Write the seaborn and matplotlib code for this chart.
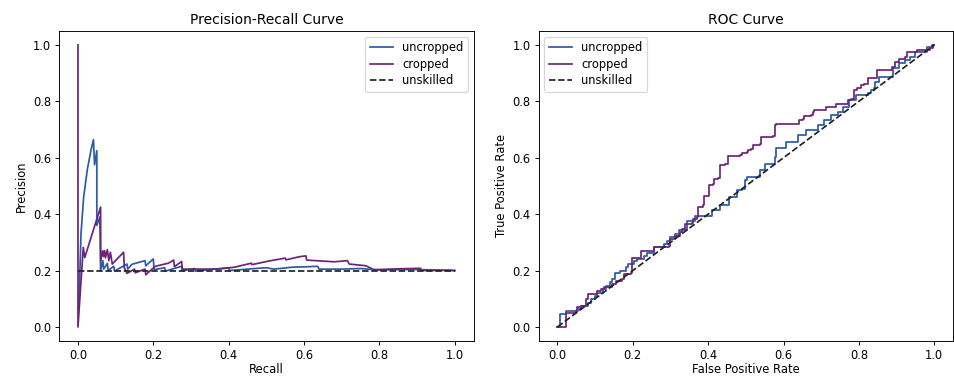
import numpy as np
import pandas as pd
import matplotlib
matplotlib.use("Agg")
import matplotlib.pyplot as plt
import seaborn as sns

# ---------------- data ----------------
# Precision-Recall: uncropped
pr_unc_recall = [0.003, 0.008, 0.015, 0.025, 0.035, 0.041, 0.044, 0.050, 0.050, 0.058, 0.060,
                 0.066, 0.068, 0.078, 0.080, 0.095, 0.097, 0.130, 0.132, 0.143, 0.178, 0.180,
                 0.200, 0.202, 0.230, 0.232, 0.275, 0.277, 0.310, 0.312, 0.360, 0.400, 0.402,
                 0.450, 0.500, 0.520, 0.570, 0.600, 0.636, 0.640, 0.700, 0.750, 0.800, 0.880,
                 0.950, 1.000]
pr_unc_precision = [0.10, 0.33, 0.46, 0.56, 0.63, 0.664, 0.575, 0.625, 0.36, 0.39, 0.20,
                    0.235, 0.205, 0.225, 0.200, 0.215, 0.198, 0.223, 0.205, 0.222, 0.235, 0.217,
                    0.241, 0.203, 0.210, 0.198, 0.215, 0.199, 0.207, 0.198, 0.205, 0.210, 0.200,
                    0.205, 0.210, 0.205, 0.212, 0.213, 0.215, 0.205, 0.205, 0.207, 0.202, 0.204,
                    0.202, 0.200]
# Precision-Recall: cropped
pr_crp_recall = [0.000, 0.000, 0.014, 0.018, 0.060, 0.0605, 0.066, 0.068, 0.071, 0.073, 0.078,
                 0.082, 0.086, 0.091, 0.121, 0.123, 0.130, 0.150, 0.152, 0.178, 0.180, 0.205,
                 0.240, 0.254, 0.256, 0.275, 0.277, 0.372, 0.416, 0.460, 0.462, 0.504, 0.550,
                 0.552, 0.588, 0.605, 0.607, 0.680, 0.715, 0.720, 0.764, 0.785, 0.850, 0.909,
                 0.911, 0.988, 1.000]
pr_crp_precision = [1.00, 0.00, 0.282, 0.246, 0.425, 0.235, 0.270, 0.250, 0.270, 0.245, 0.274,
                    0.235, 0.265, 0.223, 0.265, 0.210, 0.190, 0.205, 0.192, 0.205, 0.185, 0.215,
                    0.226, 0.237, 0.214, 0.232, 0.205, 0.205, 0.212, 0.226, 0.221, 0.233, 0.244,
                    0.238, 0.249, 0.252, 0.237, 0.231, 0.235, 0.223, 0.217, 0.203, 0.206, 0.208,
                    0.200, 0.201, 0.200]
pr_skill_recall = [0.0, 1.0]
pr_skill_precision = [0.2, 0.2]

# ROC: uncropped (step vertices)
roc_unc_fpr = [0.000, 0.008, 0.023, 0.055, 0.062, 0.080, 0.090, 0.100, 0.106, 0.120, 0.130,
               0.140, 0.146, 0.152, 0.165, 0.181, 0.186, 0.203, 0.212, 0.230, 0.238, 0.256,
               0.282, 0.291, 0.300, 0.313, 0.322, 0.344, 0.366, 0.410, 0.432, 0.454, 0.476,
               0.489, 0.498, 0.502, 0.537, 0.550, 0.577, 0.581, 0.607, 0.638, 0.660, 0.691,
               0.708, 0.726, 0.744, 0.757, 0.774, 0.792, 0.823, 0.831, 0.840, 0.844, 0.853,
               0.891, 0.906, 0.923, 0.937, 0.950, 0.981, 0.994, 1.000]
roc_unc_tpr = [0.000, 0.045, 0.055, 0.065, 0.075, 0.085, 0.098, 0.110, 0.122, 0.135, 0.146,
               0.158, 0.170, 0.193, 0.199, 0.211, 0.223, 0.235, 0.241, 0.250, 0.262, 0.282,
               0.294, 0.306, 0.318, 0.330, 0.342, 0.377, 0.395, 0.413, 0.431, 0.460, 0.484,
               0.490, 0.520, 0.532, 0.555, 0.579, 0.603, 0.636, 0.656, 0.680, 0.698, 0.715,
               0.733, 0.751, 0.763, 0.781, 0.804, 0.822, 0.828, 0.840, 0.848, 0.869, 0.887,
               0.917, 0.935, 0.947, 0.958, 0.976, 0.994, 1.000, 1.000]
# ROC: cropped (step vertices)
roc_crp_fpr = [0.000, 0.014, 0.023, 0.049, 0.052, 0.062, 0.075, 0.080, 0.106, 0.115, 0.124,
               0.146, 0.155, 0.172, 0.177, 0.194, 0.199, 0.222, 0.256, 0.296, 0.300, 0.313,
               0.326, 0.331, 0.339, 0.357, 0.361, 0.370, 0.374, 0.387, 0.390, 0.401, 0.402,
               0.414, 0.416, 0.427, 0.432, 0.445, 0.452, 0.484, 0.489, 0.502, 0.507, 0.515,
               0.520, 0.537, 0.541, 0.572, 0.577, 0.581, 0.638, 0.642, 0.651, 0.655, 0.673,
               0.677, 0.682, 0.713, 0.739, 0.770, 0.779, 0.788, 0.796, 0.805, 0.814, 0.823,
               0.831, 0.849, 0.888, 0.897, 0.906, 0.923, 0.928, 0.954, 0.989, 0.998, 1.000]
roc_crp_tpr = [0.000, 0.000, 0.051, 0.057, 0.069, 0.075, 0.098, 0.116, 0.128, 0.134, 0.140,
               0.152, 0.164, 0.169, 0.187, 0.193, 0.246, 0.268, 0.282, 0.288, 0.312, 0.324,
               0.336, 0.347, 0.365, 0.368, 0.383, 0.389, 0.425, 0.431, 0.466, 0.472, 0.502,
               0.508, 0.526, 0.529, 0.573, 0.579, 0.606, 0.608, 0.617, 0.620, 0.626, 0.632,
               0.644, 0.650, 0.674, 0.676, 0.715, 0.721, 0.721, 0.733, 0.739, 0.747, 0.751,
               0.763, 0.769, 0.781, 0.792, 0.804, 0.810, 0.840, 0.846, 0.857, 0.863, 0.881,
               0.883, 0.911, 0.923, 0.941, 0.950, 0.958, 0.976, 0.982, 0.988, 1.000, 1.000]
roc_skill_fpr = [0.0, 1.0]
roc_skill_tpr = [0.0, 1.0]

series_labels = ["uncropped", "cropped", "unskilled"]
colors = {"uncropped": "#2a5aa8", "cropped": "#6e2378", "unskilled": "#222222"}

# ---------------- figure ----------------
DPI = 83
fig, axes = plt.subplots(1, 2, figsize=(954 / DPI, 376 / DPI), dpi=DPI)
fig.subplots_adjust(left=0.062, right=0.999, top=0.918, bottom=0.093, wspace=0.157)

ax = axes[0]
sns.lineplot(x=pr_unc_recall, y=pr_unc_precision, sort=False, estimator=None, ax=ax,
             color=colors["uncropped"], label=series_labels[0], linewidth=1.5)
sns.lineplot(x=pr_crp_recall, y=pr_crp_precision, sort=False, estimator=None, ax=ax,
             color=colors["cropped"], label=series_labels[1], linewidth=1.5)
sns.lineplot(x=pr_skill_recall, y=pr_skill_precision, sort=False, estimator=None, ax=ax,
             color=colors["unskilled"], label=series_labels[2], linestyle="--", linewidth=1.5)
ax.set_title("Precision-Recall Curve")
ax.set_xlabel("Recall", labelpad=0.5)
ax.set_ylabel("Precision")
ax.legend(loc="upper right", labelspacing=0.3)

ax = axes[1]
sns.lineplot(x=roc_unc_fpr, y=roc_unc_tpr, sort=False, estimator=None, ax=ax,
             color=colors["uncropped"], label=series_labels[0], linewidth=1.5,
             drawstyle="steps-post")
sns.lineplot(x=roc_crp_fpr, y=roc_crp_tpr, sort=False, estimator=None, ax=ax,
             color=colors["cropped"], label=series_labels[1], linewidth=1.5,
             drawstyle="steps-post")
sns.lineplot(x=roc_skill_fpr, y=roc_skill_tpr, sort=False, estimator=None, ax=ax,
             color=colors["unskilled"], label=series_labels[2], linestyle="--", linewidth=1.5)
ax.set_title("ROC Curve")
ax.set_xlabel("False Positive Rate", labelpad=0.5)
ax.set_ylabel("True Positive Rate")
ax.legend(loc="upper left", labelspacing=0.3)

fig.savefig("out.png", dpi=DPI)
